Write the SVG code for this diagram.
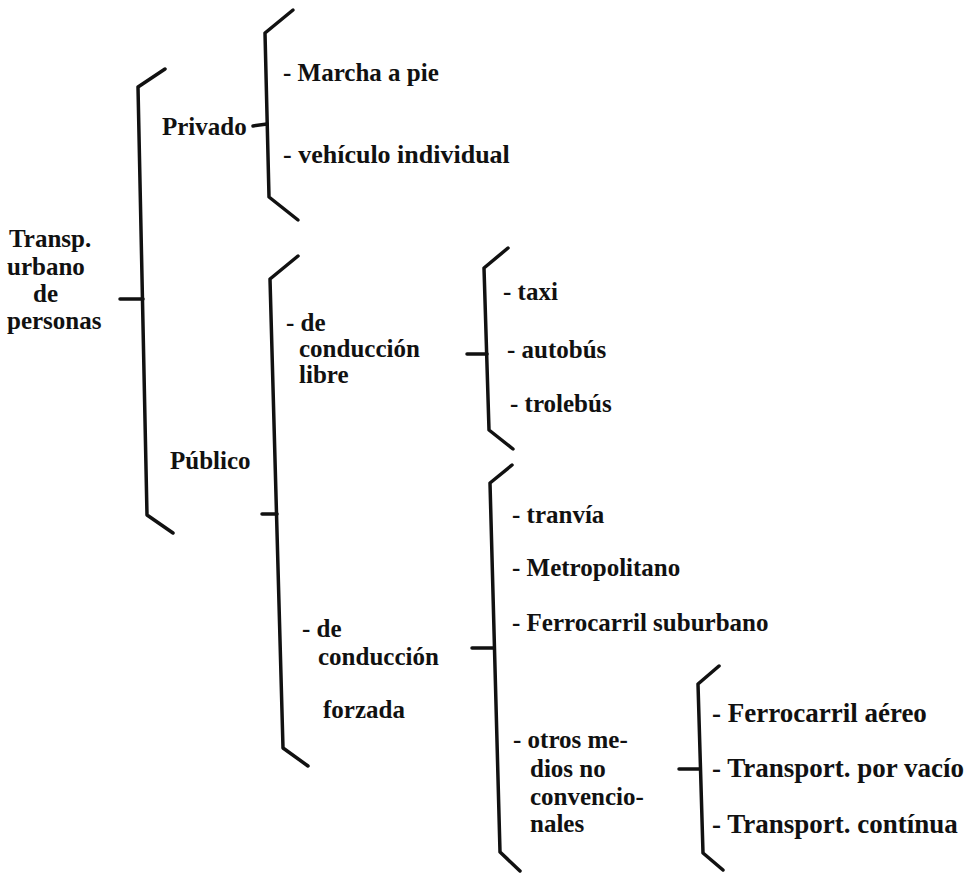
<svg xmlns="http://www.w3.org/2000/svg" width="979" height="873" viewBox="0 0 979 873">
<style>
  text { font-family: "Liberation Serif", "Times New Roman", serif; font-size: 25px; font-weight: bold; fill: #111; }
  .big { font-size: 27px; }
  .br { fill: none; stroke: #111; stroke-width: 3.5; stroke-linejoin: round; stroke-linecap: round; }
</style>
<rect width="979" height="873" fill="#fff"/>
<g id="connectors">
  <polyline class="br" points="165,69 138,87 147,515 173,533"/>
  <line class="br" x1="120" y1="299" x2="143" y2="299"/>
  <polyline class="br" points="293,10 265,33 269,197 298,220"/>
  <line class="br" x1="253" y1="126" x2="267" y2="124"/>
  <polyline class="br" points="298,256 270,279 283,748 308,766"/>
  <line class="br" x1="262" y1="514" x2="277" y2="514"/>
  <polyline class="br" points="508,248 484,268 489,430 513,449"/>
  <line class="br" x1="467" y1="354" x2="487" y2="354"/>
  <polyline class="br" points="512,465 490,483 500,852 520,871"/>
  <line class="br" x1="472" y1="648" x2="494" y2="648"/>
  <polyline class="br" points="719,666 698,684 703,853 723,870"/>
  <line class="br" x1="679" y1="769" x2="699" y2="769"/>
</g>
<g id="n-root">
  <text x="9" y="247">Transp.</text>
  <text x="7" y="275">urbano</text>
  <text x="33" y="302">de</text>
  <text x="7" y="329">personas</text>
</g>
<g id="n-privado"><text x="162" y="135">Privado</text></g>
<g id="n-marcha"><text x="283" y="81">- Marcha a pie</text></g>
<g id="n-vehiculo"><text x="283" y="163" style="font-size:26px">- vehículo individual</text></g>
<g id="n-publico"><text x="170" y="469">Público</text></g>
<g id="n-libre">
  <text x="286" y="331">- de</text>
  <text x="299" y="357">conducción</text>
  <text x="299" y="383">libre</text>
</g>
<g id="n-taxi"><text x="503" y="300">- taxi</text></g>
<g id="n-autobus"><text x="507" y="358">- autobús</text></g>
<g id="n-trolebus"><text x="510" y="412">- trolebús</text></g>
<g id="n-forzada">
  <text x="302" y="637">- de</text>
  <text x="318" y="665">conducción</text>
  <text x="323" y="718">forzada</text>
</g>
<g id="n-tranvia"><text x="512" y="523">- tranvía</text></g>
<g id="n-metro"><text x="512" y="576">- Metropolitano</text></g>
<g id="n-ferro-sub"><text x="512" y="631">- Ferrocarril suburbano</text></g>
<g id="n-otros">
  <text x="513" y="748">- otros me-</text>
  <text x="530" y="777">dios no</text>
  <text x="530" y="805">convencio-</text>
  <text x="530" y="832">nales</text>
</g>
<g id="n-aereo"><text class="big" x="712" y="722">- Ferrocarril aéreo</text></g>
<g id="n-vacio"><text class="big" x="712" y="777">- Transport. por vacío</text></g>
<g id="n-continua"><text class="big" x="712" y="833">- Transport. contínua</text></g>
</svg>
